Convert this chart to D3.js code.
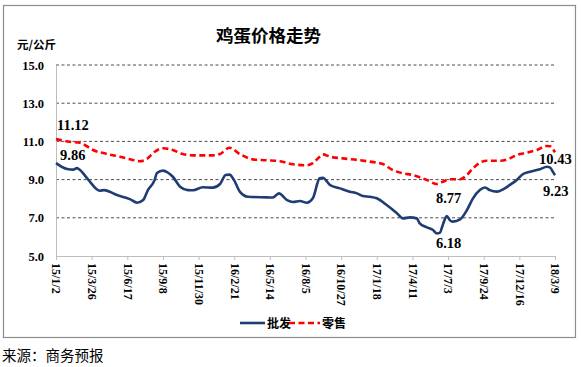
<!DOCTYPE html>
<html><head><meta charset="utf-8">
<script src="https://cdn.jsdelivr.net/npm/d3@7/dist/d3.min.js"></script>
<style>body{margin:0;background:#fff}svg{display:block}</style>
</head><body>
<svg id="c" width="581" height="367"></svg>
<script>
const title = "鸡蛋价格走势";
const unitLabel = "元/公斤";
const sourceText = "来源：商务预报";
const seriesNames = ["批发", "零售"];
const yTicks = [5, 7, 9, 11, 13, 15];
const xTickLabels = ["15/1/2","15/3/26","15/6/17","15/9/8","15/11/30","16/2/21","16/5/14","16/8/5","16/10/27","17/1/18","17/4/11","17/7/3","17/9/24","17/12/16","18/3/9"];

const wholesale = [
["2015-01-02",9.86],["2015-01-28",9.55],["2015-02-11",9.52],["2015-02-20",9.6],["2015-02-27",9.5],
["2015-03-18",9.0],["2015-04-14",8.42],["2015-04-24",8.45],["2015-05-24",8.19],["2015-06-23",7.98],
["2015-07-10",7.79],["2015-07-24",7.93],["2015-08-04",8.45],["2015-08-20",9.0],["2015-08-25",9.35],
["2015-09-08",9.47],["2015-09-20",9.36],["2015-10-01",9.15],["2015-10-18",8.63],["2015-11-05",8.45],
["2015-11-17",8.44],["2015-12-10",8.6],["2016-01-02",8.58],["2016-01-19",8.77],["2016-02-01",9.24],
["2016-02-10",9.26],["2016-02-20",9.0],["2016-03-05",8.37],["2016-03-24",8.1],["2016-04-04",8.09],
["2016-05-07",8.07],["2016-05-21",8.06],["2016-06-04",8.28],["2016-06-23",7.93],["2016-07-07",7.83],
["2016-07-23",7.88],["2016-08-08",7.79],["2016-08-22",8.02],["2016-09-07",9.07],["2016-09-14",9.1],
["2016-10-01",8.72],["2016-10-24",8.54],["2016-11-16",8.37],["2016-12-03",8.28],["2016-12-17",8.14],
["2017-01-02",8.1],["2017-01-18",8.02],["2017-02-10",7.67],["2017-03-06",7.24],["2017-03-20",6.97],
["2017-04-05",7.02],["2017-04-21",6.97],["2017-04-28",6.71],["2017-05-15",6.5],["2017-05-29",6.36],
["2017-06-07",6.18],["2017-06-14",6.22],["2017-06-21",6.65],["2017-06-30",7.09],["2017-07-07",6.88],
["2017-07-14",6.8],["2017-07-31",6.92],["2017-08-16",7.41],["2017-08-30",8.02],["2017-09-15",8.45],
["2017-09-27",8.59],["2017-10-08",8.45],["2017-10-25",8.37],["2017-11-08",8.49],["2017-11-24",8.72],
["2017-12-10",8.98],["2017-12-24",9.28],["2018-01-10",9.41],["2018-02-02",9.54],["2018-02-18",9.67],
["2018-02-25",9.64],["2018-03-04",9.41],["2018-03-09",9.23]
];
const retail = [
["2015-01-02",11.12],["2015-02-03",10.98],["2015-02-27",10.93],["2015-03-29",10.55],["2015-05-01",10.34],
["2015-05-31",10.2],["2015-06-30",10.03],["2015-07-16",9.96],["2015-08-02",10.09],["2015-08-20",10.46],
["2015-09-08",10.64],["2015-10-01",10.55],["2015-10-24",10.34],["2015-11-17",10.27],["2016-01-02",10.27],
["2016-01-19",10.34],["2016-02-10",10.67],["2016-03-05",10.34],["2016-04-04",10.06],["2016-05-07",10.01],
["2016-06-07",9.96],["2016-07-07",9.8],["2016-08-08",9.75],["2016-08-22",9.86],["2016-09-07",10.2],
["2016-09-14",10.32],["2016-10-01",10.2],["2016-10-31",10.11],["2016-12-03",10.03],["2017-01-02",9.94],
["2017-02-01",9.82],["2017-02-24",9.5],["2017-03-20",9.33],["2017-04-12",9.24],["2017-04-28",9.12],
["2017-05-15",8.98],["2017-06-07",8.77],["2017-06-21",8.89],["2017-07-07",9.02],["2017-07-31",9.02],
["2017-08-16",9.24],["2017-08-30",9.59],["2017-09-15",9.88],["2017-10-01",9.99],["2017-11-01",9.99],
["2017-11-24",10.11],["2017-12-10",10.29],["2018-01-03",10.41],["2018-01-26",10.55],["2018-02-18",10.76],
["2018-02-25",10.75],["2018-03-09",10.43]
];
const annotations = [
  {series:"retail", idx:0, text:"11.12"},
  {series:"wholesale", idx:0, text:"9.86"},
  {series:"retail", idx:"last", text:"10.43"},
  {series:"wholesale", idx:"last", text:"9.23"},
  {series:"retail", idx:36, text:"8.77"},
  {series:"wholesale", idx:55, text:"6.18"}
];

const parse = d3.timeParse("%Y-%m-%d");
const parseTick = d3.timeParse("%y/%m/%d");
const W = wholesale.map(d => ({date: parse(d[0]), v: d[1]}));
const R = retail.map(d => ({date: parse(d[0]), v: d[1]}));
const tickDates = xTickLabels.map(s => parseTick(s));

const svg = d3.select("#c");
const serif = "'Liberation Serif','Times New Roman',serif";
const plotL = 56, plotR = 555, plotT = 65, plotB = 256;

svg.append("rect").attr("x",3.5).attr("y",5.5).attr("width",572).attr("height",332)
  .attr("fill","#fff").attr("stroke","#8c8c8c").attr("stroke-width",1.2);

const x = d3.scaleTime().domain([tickDates[0], tickDates[tickDates.length-1]]).range([plotL, plotR]);
const y = d3.scaleLinear().domain([5, 15]).range([plotB, plotT]);

// gridlines
svg.append("g").selectAll("line").data(yTicks.filter(t => t > 5)).join("line")
  .attr("x1", plotL).attr("x2", plotR+1).attr("y1", d => y(d)).attr("y2", d => y(d))
  .attr("stroke","#4d4d4d").attr("stroke-width",1).attr("stroke-dasharray","3,2.5");

// y axis
const yAxis = svg.append("g").attr("transform",`translate(${plotL},0)`)
  .call(d3.axisLeft(y).tickValues(yTicks).tickFormat(d3.format(".1f")).tickSize(0).tickPadding(12));
yAxis.select(".domain").attr("stroke","#bdbdbd");
yAxis.selectAll("text").attr("font-family",serif).attr("font-weight","bold").attr("font-size","12.5px").attr("fill","#000");

// x axis
const xAxis = svg.append("g").attr("transform",`translate(0,${plotB})`)
  .call(d3.axisBottom(x).tickValues(tickDates).tickSize(4).tickSizeOuter(0).tickFormat((d,i) => xTickLabels[i]));
xAxis.select(".domain").attr("stroke","#bdbdbd");
xAxis.selectAll(".tick line").attr("stroke","#bdbdbd");
xAxis.selectAll("text").attr("font-family",serif).attr("font-weight","bold").attr("font-size","12px").attr("fill","#000")
  .attr("transform","rotate(90)").attr("text-anchor","start").attr("dy","0.35em").attr("x",7).attr("y",0);

const line = d3.line().x(d => x(d.date)).y(d => y(d.v)).curve(d3.curveMonotoneX);
svg.append("path").datum(R).attr("d", line).attr("fill","none").attr("stroke","#ff0000")
  .attr("stroke-width",2.6).attr("stroke-dasharray","6,3.5");
svg.append("path").datum(W).attr("d", line).attr("fill","none").attr("stroke","#1f3d73")
  .attr("stroke-width",2.6).attr("stroke-linejoin","round");

// annotations
const annPos = {
  "11.12":[1,-9], "9.86":[4,-3], "10.43":[-16,12],
  "9.23":[-12,21], "8.77":[-1,19], "6.18":[-1,14.5]
};
annotations.forEach(a => {
  const arr = a.series === "retail" ? R : W;
  const p = a.idx === "last" ? arr[arr.length-1] : arr[a.idx];
  const o = annPos[a.text];
  svg.append("text").attr("x", x(p.date)+o[0]).attr("y", y(p.v)+o[1]).attr("text-anchor","start")
    .attr("font-family",serif).attr("font-weight","bold").attr("font-size","14.5px").attr("fill","#000").text(a.text);
});

// title and unit
svg.append("text").attr("x",268.5).attr("y",42).attr("text-anchor","middle")
  .attr("font-family","'Noto Sans CJK SC',sans-serif").attr("font-weight","bold").attr("font-size","17.5px").text(title);
svg.append("text").attr("x",17).attr("y",49).attr("font-family","'Noto Sans CJK SC',sans-serif")
  .attr("font-size","11.5px").attr("font-weight","bold").text(unitLabel);

// legend
const lg = svg.append("g").attr("transform","translate(0,323)");
lg.append("line").attr("x1",240).attr("x2",265).attr("y1",0).attr("y2",0).attr("stroke","#1f3d73").attr("stroke-width",2.6);
lg.append("text").attr("x",267).attr("y",4.5).attr("font-family","'Noto Sans CJK SC',sans-serif").attr("font-size","12px").attr("font-weight","bold").text(seriesNames[0]);
lg.append("line").attr("x1",289).attr("x2",320).attr("y1",0).attr("y2",0).attr("stroke","#ff0000").attr("stroke-width",2.6).attr("stroke-dasharray","6,3.5");
lg.append("text").attr("x",322).attr("y",4.5).attr("font-family","'Noto Sans CJK SC',sans-serif").attr("font-size","12px").attr("font-weight","bold").text(seriesNames[1]);

// source
svg.append("text").attr("x",2).attr("y",361).attr("font-family","'Noto Sans CJK SC',sans-serif")
  .attr("font-size","14.5px").text(sourceText);
</script>
</body></html>
